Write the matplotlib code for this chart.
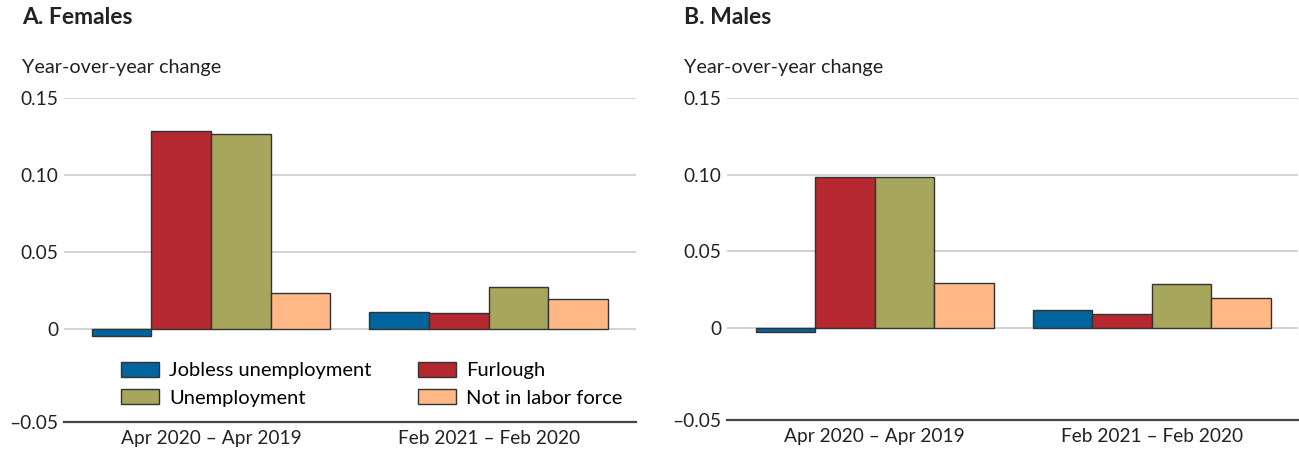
import numpy as np
import matplotlib
matplotlib.use("Agg")
import matplotlib.pyplot as plt

plt.rcParams['font.family'] = ['Lato', 'DejaVu Sans']

periods = ["Apr 2020 \u2013 Apr 2019", "Feb 2021 \u2013 Feb 2020"]
series = ["Jobless unemployment", "Furlough", "Unemployment", "Not in labor force"]
colors = ["#00649f", "#b5282f", "#a8a55c", "#ffb885"]

females = {
    "Jobless unemployment": [-0.0043, 0.0113],
    "Furlough": [0.1288, 0.0107],
    "Unemployment": [0.1268, 0.0274],
    "Not in labor force": [0.0237, 0.0196],
}
males = {
    "Jobless unemployment": [-0.0029, 0.0117],
    "Furlough": [0.0982, 0.0091],
    "Unemployment": [0.0987, 0.0286],
    "Not in labor force": [0.0294, 0.0192],
}

yticks = [-0.0605, 0, 0.05, 0.10, 0.15]
ytick_labels = ["\u20130.05", "0", "0.05", "0.10", "0.15"]

fig = plt.figure(figsize=(12.99, 4.51), dpi=100)
ax1 = fig.add_axes([64 / 1299, 1 - 422 / 451, 572 / 1299, 323.7 / 451])
ax2 = fig.add_axes([727 / 1299, 1 - 420 / 451, 571 / 1299, 321.7 / 451])

width = 0.215
x = np.arange(len(periods))


def draw_panel(ax, data, xlim):
    for i, (name, color) in enumerate(zip(series, colors)):
        ax.bar(x + (i - 1.5) * width, data[name], width, color=color,
               edgecolor="#333333", linewidth=1.0, label=name, zorder=3)
    ax.set_xlim(*xlim)
    ax.set_ylim(-0.0605, 0.15)
    for g in [0, 0.05, 0.10, 0.15]:
        ax.axhline(g, color="#cccccc", linewidth=1.2, zorder=1)
    for s in ["top", "right", "left"]:
        ax.spines[s].set_visible(False)
    ax.spines["bottom"].set_color("#444444")
    ax.spines["bottom"].set_linewidth(1.6)
    ax.set_yticks(yticks)
    ax.set_yticklabels(ytick_labels)
    ax.set_xticks(x)
    ax.set_xticklabels(periods)
    ax.tick_params(axis="both", length=0, labelsize=13.8, colors="#222222")
    ax.tick_params(axis="y", pad=4)
    ax.tick_params(axis="x", pad=6)


draw_panel(ax1, females, (-0.530, 1.531))
draw_panel(ax2, males, (-0.534, 1.529))

fig.text(22 / 1299, 1 - 18 / 451, "A. Females", fontsize=16.5, fontweight="bold",
         va="center", ha="left", color="#222222")
fig.text(684 / 1299, 1 - 18 / 451, "B. Males", fontsize=16.5, fontweight="bold",
         va="center", ha="left", color="#222222")
fig.text(22 / 1299, 1 - 68 / 451, "Year-over-year change", fontsize=14.3,
         va="center", ha="left", color="#222222")
fig.text(684 / 1299, 1 - 68 / 451, "Year-over-year change", fontsize=14.3,
         va="center", ha="left", color="#222222")

h, l = ax1.get_legend_handles_labels()
order = [0, 2, 1, 3]
ax1.legend([h[k] for k in order], [l[k] for k in order], ncol=2,
           loc="upper left", bbox_to_anchor=(121 / 1299, 1 - 362 / 451),
           bbox_transform=fig.transFigure, frameon=False, fontsize=14.5,
           handlelength=1.9, handleheight=0.75, handletextpad=0.5,
           columnspacing=2.3, labelspacing=0.5, borderpad=0, borderaxespad=0)

fig.savefig("out.png", dpi=100, facecolor="white")
